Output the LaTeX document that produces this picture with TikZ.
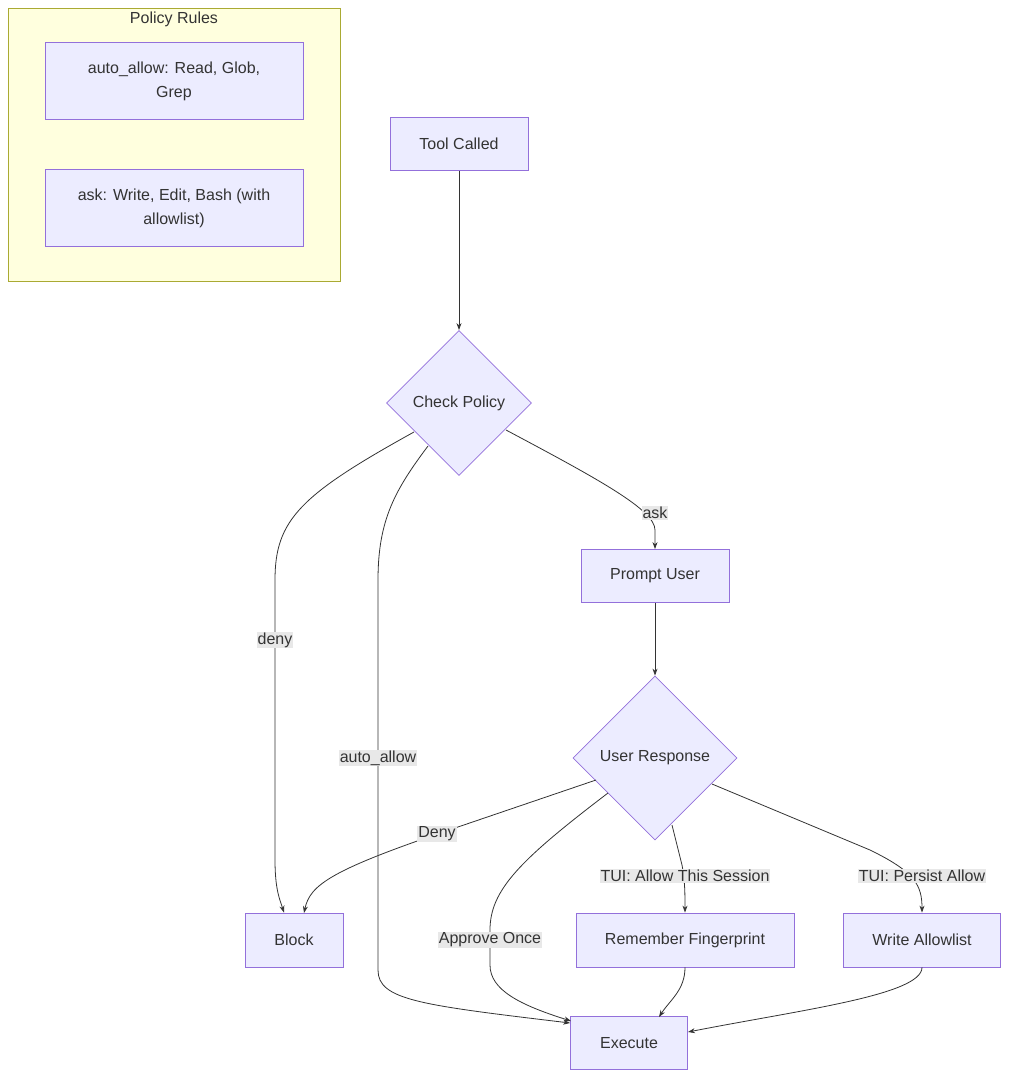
\documentclass[tikz,border=0pt]{standalone}
\usepackage{fontspec}
\setmainfont{Liberation Sans}
\usetikzlibrary{shapes.geometric,arrows.meta}
\definecolor{nf}{HTML}{ECECFF}
\definecolor{ns}{HTML}{9370DB}
\definecolor{ln}{HTML}{333333}
\definecolor{lb}{HTML}{E8E8E8}
\begin{document}
\begin{tikzpicture}[x=1pt,y=-1pt,
  every node/.style={font=\fontsize{16}{24}\selectfont,text=ln},
  box/.style={draw=ns,fill=nf,line width=0.8pt,align=center,inner sep=0pt},
  dia/.style={diamond,aspect=1,draw=ns,fill=nf,line width=0.8pt,inner sep=0pt},
  lab/.style={fill=lb,inner sep=1pt},
  e/.style={draw=ln,line width=0.8pt,-{Stealth[length=7pt,width=5pt]}}]
\useasboundingbox (0,0) rectangle (1017,1087);
\draw[fill={rgb,255:red,255;green,255;blue,222},draw={rgb,255:red,170;green,170;blue,51},line width=0.8pt] (8,8) rectangle (340,281);
\node (title) at (174,19) {Policy Rules};
\node[box,minimum width=258,minimum height=77] (aa) at (174,81) {auto\_allow: Read, Glob,\\Grep};
\node[box,minimum width=258,minimum height=77] (ak) at (174,208) {ask: Write, Edit, Bash (with\\allowlist)};
\node[box,minimum width=138,minimum height=53] (tc) at (459,144) {Tool Called};
\node[dia,minimum width=145,minimum height=145] (cp) at (459,403) {Check Policy};
\node[box,minimum width=148,minimum height=53] (pu) at (655,576) {Prompt User};
\node[dia,minimum width=164,minimum height=164] (ur) at (655,758) {User Response};
\node[box,minimum width=98,minimum height=54] (bl) at (294,940) {Block};
\node[box,minimum width=218,minimum height=54] (rf) at (685,940) {Remember Fingerprint};
\node[box,minimum width=157,minimum height=54] (wa) at (922,940) {Write Allowlist};
\node[box,minimum width=117,minimum height=53] (ex) at (629,1043) {Execute};
\draw[e] (tc) -- (cp);
\draw[e] (414,432) .. controls (300,495) and (275,520) .. (275,580) -- (275,860) .. controls (275,890) and (280,900) .. (bl.north west -| 284,913);
\draw[e] (428,446) .. controls (395,490) and (378,520) .. (378,580) -- (378,970) .. controls (378,1000) and (420,1005) .. (ex.west |- 571,1023);
\draw[e] (506,430) .. controls (600,480) and (655,510) .. (655,530) -- (pu.north);
\draw[e] (pu) -- (ur);
\draw[e] (596,780) -- (455,828) .. controls (330,870) and (310,885) .. (304,913);
\draw[e] (608,793) .. controls (520,860) and (490,890) .. (490,930) -- (490,965) .. controls (490,990) and (520,1005) .. (571,1021);
\draw[e] (672,825) -- (682,865) .. controls (685,880) and (685,895) .. (rf.north);
\draw[e] (712,784) -- (870,850) .. controls (915,872) and (922,885) .. (wa.north);
\draw[e] (rf.south) .. controls (685,990) and (670,1000) .. (659,1017);
\draw[e] (wa.south) .. controls (922,995) and (800,1010) .. (688,1032);
\node[lab] at (275,640) {deny};
\node[lab] at (378,758) {auto\_allow};
\node[lab] at (655,513) {ask};
\node[lab] at (437,834) {Deny};
\node[lab] at (490,940) {Approve Once};
\node[lab] at (685,876) {TUI: Allow This Session};
\node[lab] at (922,876) {TUI: Persist Allow};
\end{tikzpicture}
\end{document}
